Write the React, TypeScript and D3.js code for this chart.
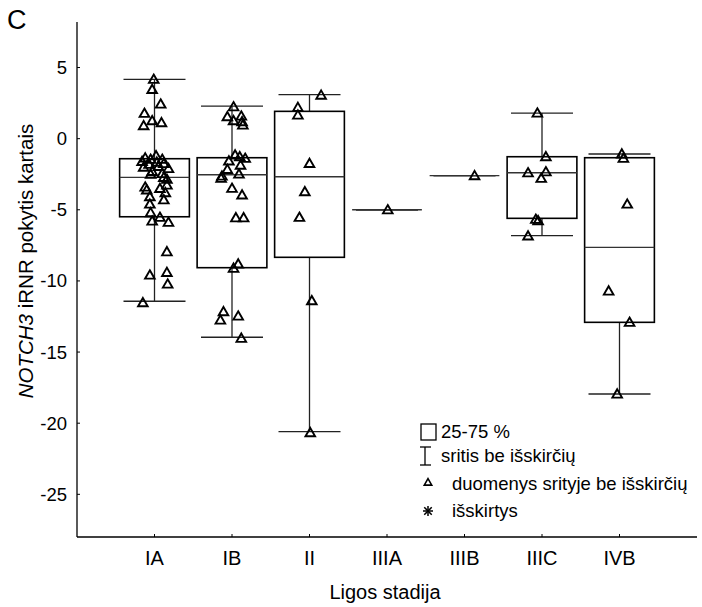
import React from "react";
import * as d3 from "d3";

// ---------- DATA ----------
const categories = ["IA", "IB", "II", "IIIA", "IIIB", "IIIC", "IVB"];
const yTicks = [5, 0, -5, -10, -15, -20, -25];

// box summaries
const whiskerHigh = [4.17, 2.29, 3.09, -5.0, -2.6, 1.8, -1.08];
const q3 = [-1.41, -1.34, 1.92, -5.0, -2.6, -1.27, -1.34];
const median = [-2.72, -2.54, -2.68, -5.0, -2.6, -2.4, -7.64];
const q1 = [-5.49, -9.07, -8.34, -5.0, -2.6, -5.6, -12.91];
const whiskerLow = [-11.43, -13.96, -20.6, -5.0, -2.6, -6.82, -17.95];

// raw points: [value, horizontal jitter in category units]
const pointsIA: [number, number][] = [
  [4.17, -0.01], [3.46, -0.03], [2.43, 0.08], [1.78, -0.13], [1.26, -0.03], [0.91, -0.14], [1.12, 0.09],
  [-1.2, 0.02], [-1.35, -0.12], [-1.45, -0.05], [-1.45, 0.1], [-1.6, -0.16], [-1.65, 0.03], [-1.8, -0.07],
  [-1.75, 0.12], [-1.95, 0.05], [-2.0, -0.14], [-2.1, 0.18], [-2.3, -0.03], [-2.45, 0.1], [-2.5, -0.05],
  [-2.72, 0.12], [-2.86, 0.16], [-3.26, 0.16], [-3.4, -0.12], [-3.6, -0.1], [-3.5, 0.07], [-3.8, 0.14],
  [-4.3, 0.12], [-4.08, -0.06], [-4.6, -0.06], [-5.2, -0.05], [-5.79, -0.03], [-5.53, 0.07], [-5.88, 0.18],
  [-7.95, 0.16], [-9.59, -0.06], [-9.4, 0.16], [-10.22, 0.17], [-11.53, -0.15],
];
const pointsIB: [number, number][] = [
  [2.24, 0.02], [1.54, -0.06], [1.26, 0.02], [1.59, 0.12], [1.19, 0.13], [0.96, 0.14],
  [-1.15, 0.04], [-1.27, 0.1], [-1.38, 0.17], [-1.57, -0.04], [-1.86, 0.11], [-2.16, -0.06],
  [-2.49, 0.09], [-2.63, -0.13], [-2.79, -0.14], [-3.49, 0.0], [-3.96, 0.13], [-5.56, 0.05],
  [-5.56, 0.15], [-8.81, 0.08], [-9.11, 0.02], [-12.16, -0.11], [-12.75, -0.15], [-12.47, 0.08],
  [-14.03, 0.12],
];
const pointsII: [number, number][] = [
  [3.06, 0.15], [2.2, -0.15], [1.66, -0.15], [-1.74, 0.0], [-3.73, -0.06], [-5.53, -0.13],
  [-11.39, 0.03], [-20.67, 0.01],
];
const pointsIIIA: [number, number][] = [[-5.0, 0.01]];
const pointsIIIB: [number, number][] = [[-2.6, 0.13]];
const pointsIIIC: [number, number][] = [
  [1.8, -0.06], [-1.27, 0.05], [-2.4, -0.18], [-2.33, 0.05], [-2.79, -0.01], [-5.67, -0.08],
  [-5.77, -0.05], [-6.84, -0.18],
];
const pointsIVB: [number, number][] = [
  [-1.08, 0.03], [-1.38, 0.05], [-4.6, 0.1], [-10.71, -0.14], [-12.91, 0.13], [-17.95, -0.03],
];
const allPoints = [pointsIA, pointsIB, pointsII, pointsIIIA, pointsIIIB, pointsIIIC, pointsIVB];

const legendLabels = ["25-75 %", "sritis be išskirčių", "duomenys srityje be išskirčių", "išskirtys"];

// ---------- LAYOUT ----------
const W = 702;
const H = 607;
const left = 77;
const right = 697;
const top = 22;
const bottom = 537;
const FONT = "'Liberation Sans', Arial, sans-serif";

export default function App() {
  const x = d3.scaleLinear().domain([0, categories.length + 1]).range([left, right]);
  const y = d3.scaleLinear().domain([-28, 8.2]).range([bottom, top]);
  const step = x(1) - x(0);
  const boxW = step * 0.9;
  const capW = step * 0.8;
  const tri = d3.symbol().type(d3.symbolTriangle).size(40)();

  const ax = 428;
  const ay = 511;
  const ar = 5;

  return (
    <svg width={W} height={H} style={{ position: "absolute", left: 0, top: 0, background: "#fff" }}>
      <rect width={W} height={H} fill="#fff" />
      <text x={7} y={29} fontFamily={FONT} fontSize={27}>C</text>

      {/* axes */}
      <line x1={left} x2={left} y1={top} y2={bottom} stroke="#000" strokeWidth={1.3} />
      <line x1={left} x2={right} y1={bottom} y2={bottom} stroke="#000" strokeWidth={1.3} />
      {yTicks.map((t) => (
        <g key={t}>
          <line x1={left} x2={left + 3} y1={y(t)} y2={y(t)} stroke="#000" />
          <text x={67} y={y(t)} dy="0.35em" textAnchor="end" fontFamily={FONT} fontSize={18.5}>
            {t}
          </text>
        </g>
      ))}
      {categories.map((c, i) => (
        <g key={c}>
          <line x1={x(i + 1)} x2={x(i + 1)} y1={bottom} y2={bottom - 3} stroke="#000" />
          <text x={x(i + 1)} y={565} textAnchor="middle" fontFamily={FONT} fontSize={20}>
            {c}
          </text>
        </g>
      ))}
      <text x={385} y={599} textAnchor="middle" fontFamily={FONT} fontSize={20}>Ligos stadija</text>
      <text
        transform={`translate(33,${261}) rotate(-90)`}
        textAnchor="middle"
        fontFamily={FONT}
        fontSize={20.5}
      >
        <tspan fontStyle="italic">NOTCH3</tspan>
        <tspan> iRNR pokytis kartais</tspan>
      </text>

      {/* boxes */}
      {categories.map((c, i) => {
        const cx = x(i + 1);
        return (
          <g key={c}>
            <line x1={cx} x2={cx} y1={y(whiskerHigh[i])} y2={y(q3[i])} stroke="#222" strokeWidth={1.3} />
            <line x1={cx} x2={cx} y1={y(q1[i])} y2={y(whiskerLow[i])} stroke="#222" strokeWidth={1.3} />
            <line x1={cx - capW / 2} x2={cx + capW / 2} y1={y(whiskerHigh[i])} y2={y(whiskerHigh[i])} stroke="#222" strokeWidth={1.3} />
            <line x1={cx - capW / 2} x2={cx + capW / 2} y1={y(whiskerLow[i])} y2={y(whiskerLow[i])} stroke="#222" strokeWidth={1.3} />
            <rect
              x={cx - boxW / 2}
              y={y(q3[i])}
              width={boxW}
              height={Math.max(0, y(q1[i]) - y(q3[i]))}
              fill="none"
              stroke="#000"
              strokeWidth={1.6}
            />
            <line x1={cx - boxW / 2} x2={cx + boxW / 2} y1={y(median[i])} y2={y(median[i])} stroke="#333" strokeWidth={1.4} />
          </g>
        );
      })}

      {/* points */}
      {allPoints.map((pts, i) =>
        pts.map(([v, j], k) => (
          <path
            key={`${i}-${k}`}
            d={tri}
            transform={`translate(${x(i + 1 + j)},${y(v) + 0.8})`}
            fill="none"
            stroke="#000"
            strokeWidth={1.9}
          />
        ))
      )}

      {/* legend */}
      <g fontFamily={FONT} fontSize={18.5}>
        <rect x={421} y={424} width={15} height={16} fill="none" stroke="#000" strokeWidth={1.3} />
        <text x={441} y={432} dy="0.35em">{legendLabels[0]}</text>
        <line x1={425} x2={425} y1={447} y2={465} stroke="#000" strokeWidth={1.3} />
        <line x1={420} x2={431} y1={447} y2={447} stroke="#000" strokeWidth={1.3} />
        <line x1={420} x2={431} y1={465} y2={465} stroke="#000" strokeWidth={1.3} />
        <text x={441} y={456} dy="0.35em">{legendLabels[1]}</text>
        <path d={d3.symbol().type(d3.symbolTriangle).size(24)()} transform="translate(428,483)" fill="none" stroke="#000" strokeWidth={1.6} />
        <text x={452} y={484} dy="0.35em">{legendLabels[2]}</text>
        <g stroke="#000" strokeWidth={1.5}>
          <line x1={ax} x2={ax} y1={ay - ar} y2={ay + ar} />
          <line x1={ax - ar} x2={ax + ar} y1={ay} y2={ay} />
          <line x1={ax - ar * 0.75} x2={ax + ar * 0.75} y1={ay - ar * 0.75} y2={ay + ar * 0.75} />
          <line x1={ax - ar * 0.75} x2={ax + ar * 0.75} y1={ay + ar * 0.75} y2={ay - ar * 0.75} />
        </g>
        <text x={452} y={511} dy="0.35em">{legendLabels[3]}</text>
      </g>
    </svg>
  );
}
